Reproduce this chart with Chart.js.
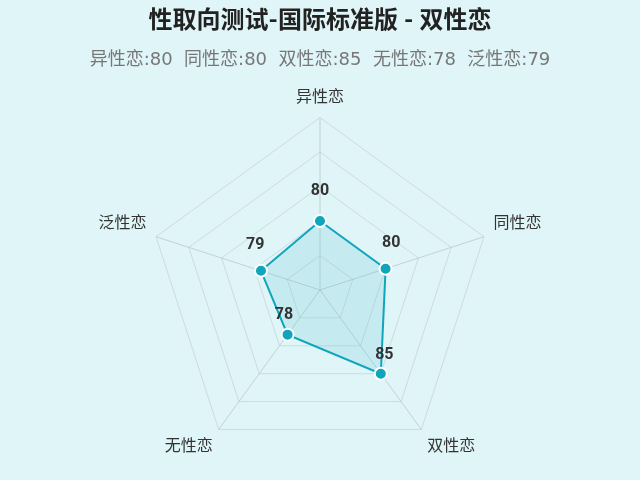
<!DOCTYPE html>
<html><head><meta charset="utf-8">
<script src="https://cdn.jsdelivr.net/npm/chart.js@4/dist/chart.umd.min.js"></script>
<style>
html,body{margin:0;padding:0;background:#dff5f8;}
#wrap{width:640px;height:480px;}
</style></head>
<body><div id="wrap"><canvas id="c" width="640" height="480"></canvas></div>
<script>
const categories = ['异性恋','同性恋','双性恋','无性恋','泛性恋'];
const scores = [80, 80, 85, 78, 79];
const titleText = '性取向测试-国际标准版 - 双性恋';
const subtitleText = categories.map((c,i)=>c+':'+scores[i]).join('  ');

const FONT = "Roboto, 'Noto Sans CJK SC', 'Noto Sans', sans-serif";
const SUBFONT = "'DejaVu Sans', 'Noto Sans CJK SC', sans-serif";

const valueLabels = {
  id:'valueLabels',
  afterDatasetsDraw(chart){
    const ctx = chart.ctx;
    const meta = chart.getDatasetMeta(0);
    const scale = chart.scales.r;
    ctx.save();
    ctx.font = "bold 16px " + FONT;
    ctx.fillStyle = '#333';
    ctx.textAlign = 'center';
    ctx.textBaseline = 'middle';
    meta.data.forEach((pt,i)=>{
      const ang = scale.getIndexAngle(i) - Math.PI/2;
      const x = pt.x + 6*Math.cos(ang);
      const y = pt.y + 6*Math.sin(ang) - 24;
      ctx.fillText(String(chart.data.datasets[0].data[i]), x, y);
    });
    ctx.restore();
  }
};

new Chart(document.getElementById('c'), {
  type:'radar',
  data:{
    labels: categories,
    datasets:[{
      data: scores,
      borderColor:'#0fa5bd',
      backgroundColor:'rgba(15,165,189,0.12)',
      borderWidth:2,
      pointBackgroundColor:'#0fa5bd',
      pointBorderColor:'#ffffff',
      pointBorderWidth:2,
      pointRadius:6,
      fill:true
    }]
  },
  options:{
    responsive:false,
    animation:false,
    layout:{padding:{top:0,bottom:1,left:0,right:0}},
    plugins:{
      legend:{display:false},
      tooltip:{enabled:false},
      title:{display:true,text:titleText,color:'#222',font:{family:FONT,size:24,weight:'bold'},padding:{top:8,bottom:10}},
      subtitle:{display:true,text:subtitleText,color:'#777',font:{family:SUBFONT,size:18},padding:{top:3,bottom:3}}
    },
    scales:{
      r:{
        min:70,max:95,
        ticks:{display:false,stepSize:5},
        grid:{color:'rgba(185,198,202,0.5)',lineWidth:1},
        angleLines:{color:'rgba(175,188,192,0.6)',lineWidth:1},
        pointLabels:{color:'#333',font:{family:FONT,size:16},padding:10}
      }
    }
  },
  plugins:[valueLabels]
});
</script></body></html>
